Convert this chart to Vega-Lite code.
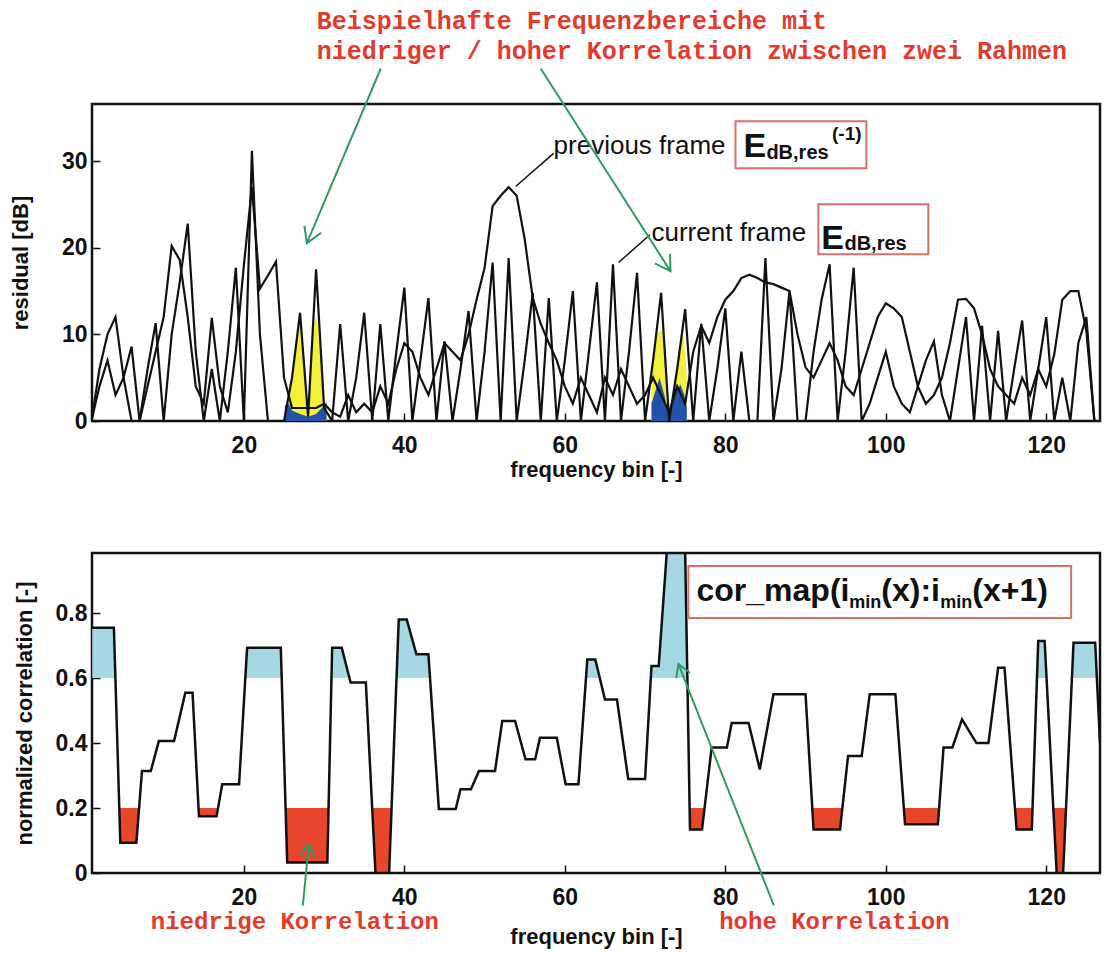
{
  "$schema": "https://vega.github.io/schema/vega-lite/v6.json",
  "padding": {"left": 8, "top": 8, "right": 5, "bottom": 5},
  "background": "white",
  "spacing": 132,
  "bounds": "flush",
  "config": {
    "font": "Liberation Sans",
    "view": {"stroke": "#111", "strokeWidth": 2.5},
    "axis": {"domain": false, "grid": false, "labelFontSize": 23, "labelFontWeight": "bold", "labelColor": "#111", "titleFontSize": 22, "titleFontWeight": "bold", "titleColor": "#111", "tickColor": "#111", "tickSize": -8, "tickWidth": 1.5},
    "axisX": {"labelPadding": 21, "titlePadding": 2},
    "axisY": {"labelPadding": 13, "titlePadding": 29}
  },
  "datasets": {
    "res": [
      {"b":1,"v":0,"f":"p"},{"b":2,"v":4,"f":"p"},{"b":3,"v":7,"f":"p"},{"b":4,"v":3,"f":"p"},{"b":5,"v":5,"f":"p"},{"b":6,"v":8.6,"f":"p"},{"b":7,"v":0,"f":"p"},{"b":8,"v":4,"f":"p"},{"b":9,"v":8,"f":"p"},{"b":10,"v":12,"f":"p"},
      {"b":11,"v":20.2,"f":"p"},{"b":12,"v":18.6,"f":"p"},{"b":13,"v":12,"f":"p"},{"b":14,"v":4,"f":"p"},{"b":15,"v":2,"f":"p"},{"b":16,"v":11.9,"f":"p"},{"b":17,"v":4,"f":"p"},{"b":18,"v":1,"f":"p"},{"b":19,"v":8,"f":"p"},{"b":20,"v":18,"f":"p"},
      {"b":21,"v":27,"f":"p"},{"b":22,"v":15.3,"f":"p"},{"b":23,"v":16.8,"f":"p"},{"b":24,"v":18.4,"f":"p"},{"b":25,"v":5,"f":"p"},{"b":26,"v":1.5,"f":"p"},{"b":27,"v":1.5,"f":"p"},{"b":28,"v":1.5,"f":"p"},{"b":29,"v":1.5,"f":"p"},{"b":30,"v":2,"f":"p"},
      {"b":31,"v":1,"f":"p"},{"b":32,"v":0.5,"f":"p"},{"b":33,"v":3,"f":"p"},{"b":34,"v":1,"f":"p"},{"b":35,"v":2,"f":"p"},{"b":36,"v":1,"f":"p"},{"b":37,"v":4,"f":"p"},{"b":38,"v":2,"f":"p"},{"b":39,"v":6,"f":"p"},{"b":40,"v":9,"f":"p"},
      {"b":41,"v":8,"f":"p"},{"b":42,"v":5,"f":"p"},{"b":43,"v":3,"f":"p"},{"b":44,"v":6,"f":"p"},{"b":45,"v":9,"f":"p"},{"b":46,"v":8,"f":"p"},{"b":47,"v":7,"f":"p"},{"b":48,"v":10,"f":"p"},{"b":49,"v":14,"f":"p"},{"b":50,"v":17.7,"f":"p"},
      {"b":51,"v":24.8,"f":"p"},{"b":52,"v":26,"f":"p"},{"b":53,"v":27,"f":"p"},{"b":54,"v":26,"f":"p"},{"b":55,"v":21,"f":"p"},{"b":56,"v":14.2,"f":"p"},{"b":57,"v":11.2,"f":"p"},{"b":58,"v":9,"f":"p"},{"b":59,"v":7,"f":"p"},{"b":60,"v":4,"f":"p"},
      {"b":61,"v":2,"f":"p"},{"b":62,"v":5,"f":"p"},{"b":63,"v":3,"f":"p"},{"b":64,"v":1,"f":"p"},{"b":65,"v":5,"f":"p"},{"b":66,"v":3,"f":"p"},{"b":67,"v":6,"f":"p"},{"b":68,"v":4,"f":"p"},{"b":69,"v":2,"f":"p"},{"b":70,"v":3,"f":"p"},
      {"b":71,"v":5,"f":"p"},{"b":72,"v":3,"f":"p"},{"b":73,"v":1,"f":"p"},{"b":74,"v":4,"f":"p"},{"b":75,"v":2,"f":"p"},{"b":76,"v":8,"f":"p"},{"b":77,"v":11,"f":"p"},{"b":78,"v":9,"f":"p"},{"b":79,"v":12,"f":"p"},{"b":80,"v":14,"f":"p"},
      {"b":81,"v":15,"f":"p"},{"b":82,"v":16.5,"f":"p"},{"b":83,"v":16.9,"f":"p"},{"b":84,"v":16.5,"f":"p"},{"b":85,"v":16,"f":"p"},{"b":86,"v":15.8,"f":"p"},{"b":87,"v":15.4,"f":"p"},{"b":88,"v":15,"f":"p"},{"b":89,"v":10,"f":"p"},{"b":90,"v":6.2,"f":"p"},
      {"b":91,"v":5,"f":"p"},{"b":92,"v":7,"f":"p"},{"b":93,"v":9,"f":"p"},{"b":94,"v":7,"f":"p"},{"b":95,"v":4,"f":"p"},{"b":96,"v":3,"f":"p"},{"b":97,"v":6,"f":"p"},{"b":98,"v":9,"f":"p"},{"b":99,"v":12,"f":"p"},{"b":100,"v":13.6,"f":"p"},
      {"b":101,"v":13,"f":"p"},{"b":102,"v":12,"f":"p"},{"b":103,"v":8,"f":"p"},{"b":104,"v":4,"f":"p"},{"b":105,"v":2,"f":"p"},{"b":106,"v":3,"f":"p"},{"b":107,"v":5,"f":"p"},{"b":108,"v":9,"f":"p"},{"b":109,"v":14,"f":"p"},{"b":110,"v":14.1,"f":"p"},
      {"b":111,"v":13,"f":"p"},{"b":112,"v":10,"f":"p"},{"b":113,"v":6,"f":"p"},{"b":114,"v":4,"f":"p"},{"b":115,"v":3,"f":"p"},{"b":116,"v":2,"f":"p"},{"b":117,"v":5,"f":"p"},{"b":118,"v":3,"f":"p"},{"b":119,"v":6,"f":"p"},{"b":120,"v":4,"f":"p"},
      {"b":121,"v":7.7,"f":"p"},{"b":122,"v":14,"f":"p"},{"b":123,"v":15,"f":"p"},{"b":124,"v":15,"f":"p"},{"b":125,"v":10.4,"f":"p"},{"b":126,"v":0,"f":"p"},{"b":127,"v":0,"f":"p"},
      {"b":1,"v":0,"f":"c"},{"b":2,"v":6,"f":"c"},{"b":3,"v":10,"f":"c"},{"b":4,"v":12,"f":"c"},{"b":5,"v":5,"f":"c"},{"b":6,"v":0,"f":"c"},{"b":7,"v":0,"f":"c"},{"b":8,"v":6,"f":"c"},{"b":9,"v":11.3,"f":"c"},{"b":10,"v":0,"f":"c"},
      {"b":11,"v":10,"f":"c"},{"b":12,"v":16,"f":"c"},{"b":13,"v":22.8,"f":"c"},{"b":14,"v":8,"f":"c"},{"b":15,"v":0,"f":"c"},{"b":16,"v":6,"f":"c"},{"b":17,"v":0,"f":"c"},{"b":18,"v":8,"f":"c"},{"b":19,"v":17.7,"f":"c"},{"b":20,"v":0,"f":"c"},
      {"b":21,"v":31.2,"f":"c"},{"b":22,"v":10,"f":"c"},{"b":23,"v":0,"f":"c"},{"b":24,"v":0,"f":"c"},{"b":25,"v":0,"f":"c"},{"b":26,"v":5,"f":"c"},{"b":27,"v":12.5,"f":"c"},{"b":28,"v":0.5,"f":"c"},{"b":29,"v":17.5,"f":"c"},{"b":30,"v":1.5,"f":"c"},
      {"b":31,"v":0,"f":"c"},{"b":32,"v":11.2,"f":"c"},{"b":33,"v":0,"f":"c"},{"b":34,"v":5,"f":"c"},{"b":35,"v":12.5,"f":"c"},{"b":36,"v":0,"f":"c"},{"b":37,"v":11.2,"f":"c"},{"b":38,"v":0,"f":"c"},{"b":39,"v":8,"f":"c"},{"b":40,"v":15.4,"f":"c"},
      {"b":41,"v":0,"f":"c"},{"b":42,"v":7,"f":"c"},{"b":43,"v":14.2,"f":"c"},{"b":44,"v":0,"f":"c"},{"b":45,"v":9.2,"f":"c"},{"b":46,"v":0,"f":"c"},{"b":47,"v":6,"f":"c"},{"b":48,"v":12.7,"f":"c"},{"b":49,"v":0,"f":"c"},{"b":50,"v":8,"f":"c"},
      {"b":51,"v":18.3,"f":"c"},{"b":52,"v":0,"f":"c"},{"b":53,"v":18.8,"f":"c"},{"b":54,"v":0,"f":"c"},{"b":55,"v":7,"f":"c"},{"b":56,"v":14.8,"f":"c"},{"b":57,"v":0,"f":"c"},{"b":58,"v":14.2,"f":"c"},{"b":59,"v":0,"f":"c"},{"b":60,"v":7,"f":"c"},
      {"b":61,"v":15,"f":"c"},{"b":62,"v":0,"f":"c"},{"b":63,"v":8,"f":"c"},{"b":64,"v":16,"f":"c"},{"b":65,"v":0,"f":"c"},{"b":66,"v":18.1,"f":"c"},{"b":67,"v":0,"f":"c"},{"b":68,"v":8,"f":"c"},{"b":69,"v":17.1,"f":"c"},{"b":70,"v":0,"f":"c"},
      {"b":71,"v":7,"f":"c"},{"b":72,"v":14.8,"f":"c"},{"b":73,"v":0,"f":"c"},{"b":74,"v":6,"f":"c"},{"b":75,"v":12.9,"f":"c"},{"b":76,"v":0,"f":"c"},{"b":77,"v":11.2,"f":"c"},{"b":78,"v":0,"f":"c"},{"b":79,"v":6,"f":"c"},{"b":80,"v":13,"f":"c"},
      {"b":81,"v":0,"f":"c"},{"b":82,"v":8,"f":"c"},{"b":83,"v":0,"f":"c"},{"b":84,"v":0,"f":"c"},{"b":85,"v":18.8,"f":"c"},{"b":86,"v":0,"f":"c"},{"b":87,"v":6,"f":"c"},{"b":88,"v":15,"f":"c"},{"b":89,"v":0,"f":"c"},{"b":90,"v":0,"f":"c"},
      {"b":91,"v":8,"f":"c"},{"b":92,"v":14,"f":"c"},{"b":93,"v":18.1,"f":"c"},{"b":94,"v":0,"f":"c"},{"b":95,"v":8,"f":"c"},{"b":96,"v":17.7,"f":"c"},{"b":97,"v":0,"f":"c"},{"b":98,"v":2,"f":"c"},{"b":99,"v":5,"f":"c"},{"b":100,"v":8,"f":"c"},
      {"b":101,"v":4,"f":"c"},{"b":102,"v":2,"f":"c"},{"b":103,"v":1,"f":"c"},{"b":104,"v":4,"f":"c"},{"b":105,"v":7,"f":"c"},{"b":106,"v":9.2,"f":"c"},{"b":107,"v":3,"f":"c"},{"b":108,"v":0,"f":"c"},{"b":109,"v":6,"f":"c"},{"b":110,"v":12,"f":"c"},
      {"b":111,"v":0,"f":"c"},{"b":112,"v":11,"f":"c"},{"b":113,"v":0,"f":"c"},{"b":114,"v":10.4,"f":"c"},{"b":115,"v":0,"f":"c"},{"b":116,"v":6,"f":"c"},{"b":117,"v":11.6,"f":"c"},{"b":118,"v":0,"f":"c"},{"b":119,"v":6,"f":"c"},{"b":120,"v":12,"f":"c"},
      {"b":121,"v":0,"f":"c"},{"b":122,"v":5,"f":"c"},{"b":123,"v":0,"f":"c"},{"b":124,"v":9,"f":"c"},{"b":125,"v":12,"f":"c"},{"b":126,"v":0,"f":"c"},{"b":127,"v":0,"f":"c"}
    ],
    "yellow": [
      {"b":25.1,"v":0.5,"s":"a"},{"b":26,"v":5,"s":"a"},{"b":27,"v":12.5,"s":"a"},{"b":28,"v":0.5,"s":"a"},
      {"b":28,"v":0.5,"s":"b"},{"b":28.6,"v":10.5,"s":"b"},{"b":29,"v":12,"s":"b"},{"b":29.4,"v":10.5,"s":"b"},{"b":30,"v":1.5,"s":"b"},{"b":30.3,"v":1,"s":"b"},
      {"b":70.8,"v":5.6,"s":"c"},{"b":71,"v":7,"s":"c"},{"b":71.4,"v":10,"s":"c"},{"b":71.9,"v":10.4,"s":"c"},{"b":72.3,"v":10.4,"s":"c"},{"b":72.7,"v":4.4,"s":"c"},{"b":73,"v":0,"s":"c"},
      {"b":73,"v":0,"s":"d"},{"b":74,"v":6,"s":"d"},{"b":74.5,"v":9.5,"s":"d"},{"b":74.7,"v":10.4,"s":"d"},{"b":75,"v":8,"s":"d"},{"b":75.2,"v":5,"s":"d"}
    ],
    "blue": [
      {"b":25.1,"v":1.8,"s":"a"},{"b":25.6,"v":2,"s":"a"},{"b":26,"v":1.2,"s":"a"},{"b":27,"v":0.8,"s":"a"},{"b":28,"v":0.5,"s":"a"},{"b":29,"v":0.8,"s":"a"},{"b":30,"v":1.8,"s":"a"},{"b":30.3,"v":2.2,"s":"a"},
      {"b":70.8,"v":2,"s":"b"},{"b":71.3,"v":3.5,"s":"b"},{"b":71.8,"v":5,"s":"b"},{"b":72.4,"v":3,"s":"b"},{"b":73,"v":0.5,"s":"b"},
      {"b":73,"v":0.5,"s":"c"},{"b":73.6,"v":3,"s":"c"},{"b":74.4,"v":4.2,"s":"c"},{"b":74.9,"v":3,"s":"c"},{"b":75.2,"v":1.5,"s":"c"}
    ],
    "cor": [
      {"b":1.1,"c":0.755},{"b":3.8,"c":0.755},{"b":4.6,"c":0.093},{"b":6.6,"c":0.093},{"b":7.3,"c":0.314},{"b":8.4,"c":0.314},{"b":9.4,"c":0.406},{"b":11.3,"c":0.406},{"b":12.7,"c":0.555},{"b":13.6,"c":0.555},
      {"b":14.4,"c":0.175},{"b":16.6,"c":0.175},{"b":17.3,"c":0.273},{"b":19.4,"c":0.273},{"b":20.4,"c":0.693},{"b":24.6,"c":0.693},{"b":25.4,"c":0.032},{"b":30.4,"c":0.032},{"b":31.0,"c":0.693},{"b":32.2,"c":0.693},
      {"b":33.3,"c":0.586},{"b":35.2,"c":0.586},{"b":36.4,"c":0.0},{"b":38.1,"c":0.0},{"b":39.3,"c":0.78},{"b":40.3,"c":0.78},{"b":41.5,"c":0.673},{"b":43.0,"c":0.673},{"b":44.3,"c":0.197},{"b":46.4,"c":0.197},
      {"b":47.0,"c":0.258},{"b":48.3,"c":0.258},{"b":49.3,"c":0.314},{"b":51.3,"c":0.314},{"b":52.2,"c":0.468},{"b":53.8,"c":0.468},{"b":55.1,"c":0.35},{"b":56.3,"c":0.35},{"b":56.9,"c":0.416},{"b":59.0,"c":0.416},
      {"b":60.1,"c":0.273},{"b":61.7,"c":0.273},{"b":62.8,"c":0.657},{"b":63.8,"c":0.657},{"b":65.0,"c":0.534},{"b":66.5,"c":0.534},{"b":67.9,"c":0.289},{"b":70.0,"c":0.289},{"b":70.8,"c":0.637},{"b":71.7,"c":0.637},
      {"b":72.7,"c":0.985},{"b":75.0,"c":0.985},{"b":75.6,"c":0.134},{"b":77.1,"c":0.134},{"b":78.3,"c":0.386},{"b":80.2,"c":0.386},{"b":80.8,"c":0.462},{"b":82.9,"c":0.462},{"b":84.3,"c":0.319},{"b":86.0,"c":0.55},
      {"b":90.0,"c":0.55},{"b":91.0,"c":0.134},{"b":94.3,"c":0.134},{"b":95.3,"c":0.36},{"b":97.0,"c":0.36},{"b":98.0,"c":0.55},{"b":101.2,"c":0.55},{"b":102.4,"c":0.15},{"b":106.5,"c":0.15},{"b":107.2,"c":0.386},
      {"b":108.3,"c":0.386},{"b":109.5,"c":0.473},{"b":111.3,"c":0.40},{"b":112.8,"c":0.40},{"b":114.0,"c":0.632},{"b":114.8,"c":0.632},{"b":116.3,"c":0.134},{"b":118.2,"c":0.134},{"b":119.0,"c":0.714},{"b":119.8,"c":0.714},
      {"b":121.3,"c":0.0},{"b":122.1,"c":0.0},{"b":123.4,"c":0.709},{"b":126.1,"c":0.709},{"b":126.7,"c":0.4}
    ],
    "hi": [
      {"b":1.1,"c":0.755,"s":"1"},{"b":3.8,"c":0.755,"s":"1"},{"b":3.99,"c":0.6,"s":"1"},
      {"b":20.18,"c":0.6,"s":"2"},{"b":20.4,"c":0.693,"s":"2"},{"b":24.6,"c":0.693,"s":"2"},{"b":24.71,"c":0.6,"s":"2"},
      {"b":30.92,"c":0.6,"s":"3"},{"b":31.0,"c":0.693,"s":"3"},{"b":32.2,"c":0.693,"s":"3"},{"b":33.16,"c":0.6,"s":"3"},
      {"b":39.02,"c":0.6,"s":"4"},{"b":39.3,"c":0.78,"s":"4"},{"b":40.3,"c":0.78,"s":"4"},{"b":41.5,"c":0.673,"s":"4"},{"b":43.0,"c":0.673,"s":"4"},{"b":43.2,"c":0.6,"s":"4"},
      {"b":62.64,"c":0.6,"s":"5"},{"b":62.8,"c":0.657,"s":"5"},{"b":63.8,"c":0.657,"s":"5"},{"b":64.36,"c":0.6,"s":"5"},
      {"b":70.71,"c":0.6,"s":"6"},{"b":70.8,"c":0.637,"s":"6"},{"b":71.7,"c":0.637,"s":"6"},{"b":72.7,"c":0.985,"s":"6"},{"b":75.0,"c":0.985,"s":"6"},{"b":75.27,"c":0.6,"s":"6"},
      {"b":118.84,"c":0.6,"s":"7"},{"b":119.0,"c":0.714,"s":"7"},{"b":119.8,"c":0.714,"s":"7"},{"b":120.04,"c":0.6,"s":"7"},
      {"b":123.2,"c":0.6,"s":"8"},{"b":123.4,"c":0.709,"s":"8"},{"b":126.1,"c":0.709,"s":"8"},{"b":126.31,"c":0.6,"s":"8"}
    ],
    "lo": [
      {"b":4.47,"c":0.2,"s":"1"},{"b":4.6,"c":0.093,"s":"1"},{"b":6.6,"c":0.093,"s":"1"},{"b":6.94,"c":0.2,"s":"1"},
      {"b":14.35,"c":0.2,"s":"2"},{"b":14.4,"c":0.175,"s":"2"},{"b":16.6,"c":0.175,"s":"2"},{"b":16.78,"c":0.2,"s":"2"},
      {"b":25.2,"c":0.2,"s":"3"},{"b":25.4,"c":0.032,"s":"3"},{"b":30.4,"c":0.032,"s":"3"},{"b":30.55,"c":0.2,"s":"3"},
      {"b":35.99,"c":0.2,"s":"4"},{"b":36.4,"c":0.0,"s":"4"},{"b":38.1,"c":0.0,"s":"4"},{"b":38.41,"c":0.2,"s":"4"},
      {"b":75.55,"c":0.2,"s":"5"},{"b":75.6,"c":0.134,"s":"5"},{"b":77.1,"c":0.134,"s":"5"},{"b":77.41,"c":0.2,"s":"5"},
      {"b":90.84,"c":0.2,"s":"6"},{"b":91.0,"c":0.134,"s":"6"},{"b":94.3,"c":0.134,"s":"6"},{"b":94.59,"c":0.2,"s":"6"},
      {"b":102.25,"c":0.2,"s":"7"},{"b":102.4,"c":0.15,"s":"7"},{"b":106.5,"c":0.15,"s":"7"},{"b":106.65,"c":0.2,"s":"7"},
      {"b":116.1,"c":0.2,"s":"8"},{"b":116.3,"c":0.134,"s":"8"},{"b":118.2,"c":0.134,"s":"8"},{"b":118.29,"c":0.2,"s":"8"},
      {"b":120.88,"c":0.2,"s":"9"},{"b":121.3,"c":0.0,"s":"9"},{"b":122.1,"c":0.0,"s":"9"},{"b":122.47,"c":0.2,"s":"9"}
    ],
    "vlines": [{"b":25.1},{"b":30.3},{"b":70.8},{"b":75.2}]
  },
  "vconcat": [
    {
      "width": 1008,
      "height": 317,
      "encoding": {
        "x": {"field": "b", "type": "quantitative", "scale": {"domain": [1.07, 126.7], "nice": false, "zero": false}, "axis": {"values": [20,40,60,80,100,120], "title": "frequency bin [-]"}},
        "y": {"field": "v", "type": "quantitative", "scale": {"domain": [0, 36.6], "nice": false, "zero": false}, "axis": {"values": [0,10,20,30], "title": "residual [dB]"}}
      },
      "layer": [
        {"data": {"name": "vlines"}, "mark": {"type": "rule", "color": "#4a9a8c", "strokeWidth": 2}, "encoding": {"y": {"datum": 39.8}, "y2": {"datum": -15.2}}},
        {"data": {"name": "yellow"}, "mark": {"type": "area", "color": "#f4ef3b", "opacity": 1}, "encoding": {"y2": {"datum": 0}, "detail": {"field": "s"}}},
        {"data": {"name": "blue"}, "mark": {"type": "area", "color": "#2352ad", "opacity": 1}, "encoding": {"y2": {"datum": 0}, "detail": {"field": "s"}}},
        {"data": {"name": "res"}, "mark": {"type": "line", "color": "#111", "strokeWidth": 2.2, "clip": true}, "encoding": {"detail": {"field": "f"}}},
        {"data": {"values": [{"b":58.6,"v":30.9,"b2":53.9,"v2":27.1},{"b":70.6,"v":21.5,"b2":66.7,"v2":18.3}]}, "mark": {"type": "rule", "color": "#111", "strokeWidth": 1.5}, "encoding": {"x2": {"field": "b2"}, "y2": {"field": "v2"}}},
        {"data": {"values": [{"b":81.27,"v":34.6,"b2":97.58,"v2":29.18},{"b":91.6,"v":25.03,"b2":105.3,"v2":19.26}]}, "mark": {"type": "rect", "fill": "white", "stroke": "#d8706a", "strokeWidth": 2}, "encoding": {"x2": {"field": "b2"}, "y2": {"field": "v2"}}},
        {"data": {"values": [{"b":58.6,"v":30.8,"t":"previous frame"},{"b":70.8,"v":20.76,"t":"current frame"}]}, "mark": {"type": "text", "align": "left", "baseline": "alphabetic", "fontSize": 26, "color": "#111"}, "encoding": {"text": {"field": "t"}}},
        {"data": {"values": [{"b":82.27,"v":30.45},{"b":91.97,"v":19.84}]}, "mark": {"type": "text", "text": "E", "align": "left", "baseline": "alphabetic", "fontSize": 34, "fontWeight": "bold", "color": "#111"}},
        {"data": {"values": [{"b":85.12,"v":30.3},{"b":94.85,"v":19.7}]}, "mark": {"type": "text", "text": "dB,res", "align": "left", "baseline": "alphabetic", "fontSize": 20, "fontWeight": "bold", "color": "#111"}},
        {"data": {"values": [{"b":93.3,"v":32.5}]}, "mark": {"type": "text", "text": "(-1)", "align": "left", "baseline": "alphabetic", "fontSize": 19, "fontWeight": "bold", "color": "#111"}},
        {"data": {"values": [{"b":29.09,"v":46.14,"t":"Beispielhafte Frequenzbereiche mit"},{"b":29.09,"v":42.68,"t":"niedriger / hoher Korrelation zwischen zwei Rahmen"}]}, "mark": {"type": "text", "align": "left", "baseline": "middle", "font": "Liberation Mono", "fontSize": 25, "fontWeight": "bold", "color": "#e23b2e"}, "encoding": {"text": {"field": "t"}}},
        {"data": {"values": [{"b":37.06,"v":40.7,"b2":27.85,"v2":20.53},{"b":56.99,"v":40.7,"b2":73.17,"v2":17.3}]}, "mark": {"type": "rule", "color": "#2f9a64", "strokeWidth": 2}, "encoding": {"x2": {"field": "b2"}, "y2": {"field": "v2"}}},
        {"data": {"values": [{"b":27.85,"v":20.53}]}, "mark": {"type": "point", "shape": "M-1,-0.6L0,0L-1,0.6", "filled": false, "color": "#2f9a64", "strokeWidth": 2, "size": 900, "opacity": 1, "angle": 112.9}},
        {"data": {"values": [{"b":73.17,"v":17.3}]}, "mark": {"type": "point", "shape": "M-1,-0.6L0,0L-1,0.6", "filled": false, "color": "#2f9a64", "strokeWidth": 2, "size": 900, "opacity": 1, "angle": 57.4}}
      ]
    },
    {
      "width": 1008,
      "height": 320,
      "encoding": {
        "x": {"field": "b", "type": "quantitative", "scale": {"domain": [1.07, 126.7], "nice": false, "zero": false}, "axis": {"values": [20,40,60,80,100,120], "title": "frequency bin [-]", "titlePadding": 17}},
        "y": {"field": "c", "type": "quantitative", "scale": {"domain": [0, 0.985], "nice": false, "zero": false}, "axis": {"values": [0,0.2,0.4,0.6,0.8], "labelExpr": "datum.value == 0 ? '0' : format(datum.value, '.1f')", "title": "normalized correlation [-]", "titlePadding": 19}}
      },
      "layer": [
        {"data": {"name": "vlines"}, "mark": {"type": "rule", "color": "#4a9a8c", "strokeWidth": 2}, "encoding": {"y": {"datum": 0}, "y2": {"datum": 0.985}}},
        {"data": {"values": [{"c":0.2},{"c":0.6}]}, "mark": {"type": "rule", "color": "#4a9a8c", "strokeWidth": 2}, "encoding": {"x": {"datum": 1.07}, "x2": {"datum": 126.7}}},
        {"data": {"name": "hi"}, "mark": {"type": "area", "color": "#a6d8e3", "opacity": 1}, "encoding": {"y2": {"datum": 0.6}, "detail": {"field": "s"}}},
        {"data": {"name": "lo"}, "mark": {"type": "area", "color": "#e8472b", "opacity": 1}, "encoding": {"y2": {"datum": 0.2}, "detail": {"field": "s"}}},
        {"data": {"name": "cor"}, "mark": {"type": "line", "color": "#111", "strokeWidth": 2.5, "clip": true}},
        {"data": {"values": [{"b":75.4,"c":0.9446,"b2":123.1,"c2":0.7846}]}, "mark": {"type": "rect", "fill": "white", "stroke": "#d8706a", "strokeWidth": 2}, "encoding": {"x2": {"field": "b2"}, "y2": {"field": "c2"}}},
        {"data": {"values": [{"b":76.41,"c":0.837,"t":"cor_map(i"},{"b":99.45,"c":0.837,"t":"(x):i"},{"b":110.78,"c":0.837,"t":"(x+1)"}]}, "mark": {"type": "text", "align": "left", "baseline": "alphabetic", "fontSize": 32, "fontWeight": "bold", "color": "#111"}, "encoding": {"text": {"field": "t"}}},
        {"data": {"values": [{"b":95.46,"c":0.815},{"b":106.79,"c":0.815}]}, "mark": {"type": "text", "text": "min", "align": "left", "baseline": "alphabetic", "fontSize": 18, "fontWeight": "bold", "color": "#111"}},
        {"data": {"values": [{"b":26.35,"c":-0.152,"t":"niedrige Korrelation"},{"b":93.6,"c":-0.152,"t":"hohe Korrelation"}]}, "mark": {"type": "text", "align": "center", "baseline": "middle", "font": "Liberation Mono", "fontSize": 24, "fontWeight": "bold", "color": "#e23b2e"}, "encoding": {"text": {"field": "t"}}},
        {"data": {"values": [{"b":27.35,"c":-0.1,"b2":28.09,"c2":0.0892},{"b":86.05,"c":-0.1,"b2":74.17,"c2":0.643}]}, "mark": {"type": "rule", "color": "#2f9a64", "strokeWidth": 2}, "encoding": {"x2": {"field": "b2"}, "y2": {"field": "c2"}}},
        {"data": {"values": [{"b":28.09,"c":0.0892}]}, "mark": {"type": "point", "shape": "M-1,-0.6L0,0L-1,0.6", "filled": false, "color": "#2f9a64", "strokeWidth": 2, "size": 600, "opacity": 1, "angle": -83.2}},
        {"data": {"values": [{"b":74.17,"c":0.643}]}, "mark": {"type": "point", "shape": "M-1,-0.6L0,0L-1,0.6", "filled": false, "color": "#2f9a64", "strokeWidth": 2, "size": 600, "opacity": 1, "angle": -111.6}}
      ]
    }
  ]
}
